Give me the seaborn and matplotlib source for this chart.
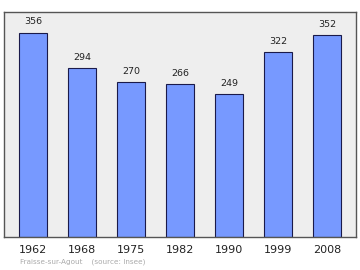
import matplotlib
matplotlib.use("Agg")
import matplotlib.pyplot as plt
import seaborn as sns
import pandas as pd

years = ["1962", "1968", "1975", "1982", "1990", "1999", "2008"]
population = [356, 294, 270, 266, 249, 322, 352]

df = pd.DataFrame({"year": years, "pop": population})

sns.set_style("white")
plt.rcParams['font.family'] = ['DejaVu Sans']

fig = plt.figure(figsize=(3.6, 2.7), dpi=100)
ax = fig.add_axes([4/360, 1 - 237/270, 352/360, 225/270])
ax.set_facecolor("#eeeeee")

sns.barplot(data=df, x="year", y="pop", ax=ax, color="#7799ff",
            edgecolor="#1a1a4a", linewidth=0.8, width=0.57, saturation=1)

for i, v in enumerate(population):
    ax.annotate(str(v), (i, v), xytext=(0, 4.5), textcoords="offset points",
                ha="center", va="bottom", fontsize=6.8, color="#222222")

ax.set_ylim(0, 392)
ax.set_xlim(-0.59, 6.59)
ax.set_yticks([])
ax.set_xlabel("")
ax.set_ylabel("")
ax.tick_params(axis="x", length=0, labelsize=8, pad=6, colors="#222222")
for s in ax.spines.values():
    s.set_color("#555555")
    s.set_linewidth(1)

fig.text(20/360, 1 - 262/270, "Fraisse-sur-Agout    (source: Insee)", fontsize=5.2,
         color="#aaaaaa", ha="left", va="center")

fig.savefig("out.png", dpi=100)
